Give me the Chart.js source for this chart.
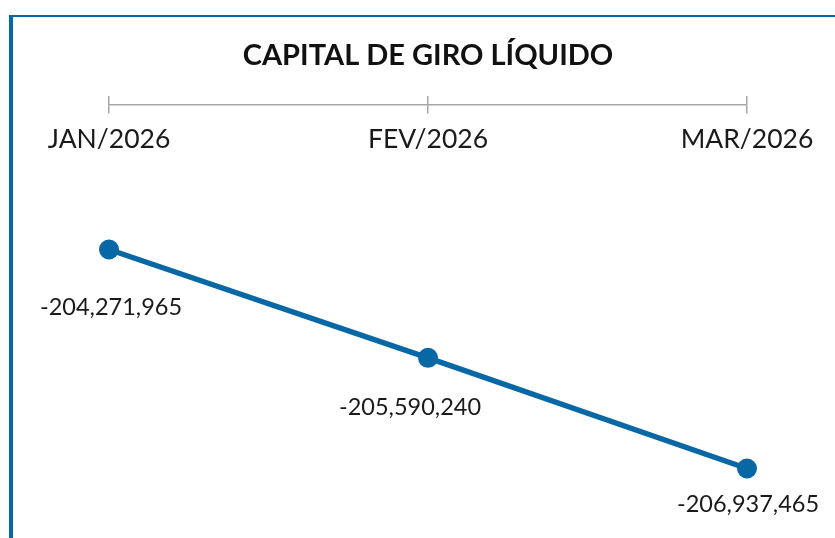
<!DOCTYPE html>
<html>
<head>
<meta charset="utf-8">
<script src="https://cdn.jsdelivr.net/npm/chart.js@4.4.1/dist/chart.umd.min.js"></script>
<style>
    html, body { margin: 0; padding: 0; background: #fff; overflow: hidden; }
    body { width: 835px; height: 538px; position: relative; }
    #moldura {
        position: absolute; left: 9px; top: 15px; width: 900px; height: 600px;
        border-left: 4px solid #0868a6; border-top: 2px solid #0868a6;
    }
    #grafico { position: absolute; left: 0; top: 0; }
</style>
</head>
<body>
<div id="moldura"></div>
<canvas id="grafico" width="835" height="538"></canvas>
<script>
document.addEventListener("DOMContentLoaded", () => {
    // Dados do gráfico
    const meses = ["JAN/2026", "FEV/2026", "MAR/2026"];
    const capitalGiro = [-204271965, -205590240, -206937465];
    const titulo = "CAPITAL DE GIRO LÍQUIDO";

    // Faixa do eixo Y (oculto) e posição do eixo X no topo
    const yMin = -207783000;
    const yMax = -202214000;
    const eixoXValor = -202507170;
    const marcaValor = -202409802;

    // Deslocamento dos rótulos de dados em relação ao ponto
    const deslocRotulos = [{ dx: 2, dy: 58 }, { dx: -18, dy: 50 }, { dx: 1, dy: 36 }];

    const fonte = "Lato, 'Noto Sans', sans-serif";
    const azul = "#0868a6";

    const rotulosDados = {
        id: "rotulosDados",
        afterDatasetsDraw(chart) {
            const ctx = chart.ctx;
            const meta = chart.getDatasetMeta(0);
            ctx.save();
            ctx.font = `23.5px ${fonte}`;
            ctx.fillStyle = "#1a1a1a";
            ctx.textAlign = "center";
            ctx.textBaseline = "middle";
            meta.data.forEach((pt, i) => {
                const d = deslocRotulos[i];
                ctx.fillText(capitalGiro[i].toLocaleString("en-US"), pt.x + d.dx, pt.y + d.dy);
            });
            ctx.restore();
        }
    };

    const ctx = document.getElementById("grafico").getContext("2d");
    new Chart(ctx, {
        type: "line",
        data: {
            labels: meses,
            datasets: [{
                data: capitalGiro,
                borderColor: azul,
                backgroundColor: azul,
                borderWidth: 5.5,
                pointRadius: 10,
                pointBorderWidth: 0,
                pointBackgroundColor: azul,
                tension: 0,
                clip: false
            }]
        },
        options: {
            responsive: false,
            animation: false,
            devicePixelRatio: 1,
            layout: { autoPadding: false, padding: { left: 109, right: 88, top: 0, bottom: 0 } },
            plugins: {
                legend: { display: false },
                tooltip: { enabled: false },
                title: {
                    display: true,
                    text: titulo,
                    color: "#111",
                    font: { family: fonte, size: 29, weight: "bold", lineHeight: 1.2 },
                    padding: { top: 38, bottom: 7.6 }
                }
            },
            scales: {
                y: { display: false, min: yMin, max: yMax },
                x: {
                    position: { y: eixoXValor },
                    offset: false,
                    border: { display: true, color: "#a6a6a6", width: 1.5 },
                    grid: { drawOnChartArea: false, drawTicks: true, tickLength: 8, color: "#a6a6a6", lineWidth: 1.5 },
                    ticks: { color: "#1a1a1a", padding: 11, font: { family: fonte, size: 26.5 }, maxRotation: 0 }
                },
                x2: {
                    type: "category",
                    labels: meses,
                    position: { y: marcaValor },
                    offset: false,
                    border: { display: false },
                    grid: { drawOnChartArea: false, drawTicks: true, tickLength: 8, color: "#a6a6a6", lineWidth: 1.5 },
                    ticks: { display: false }
                }
            }
        },
        plugins: [rotulosDados]
    });
});
</script>
</body>
</html>
